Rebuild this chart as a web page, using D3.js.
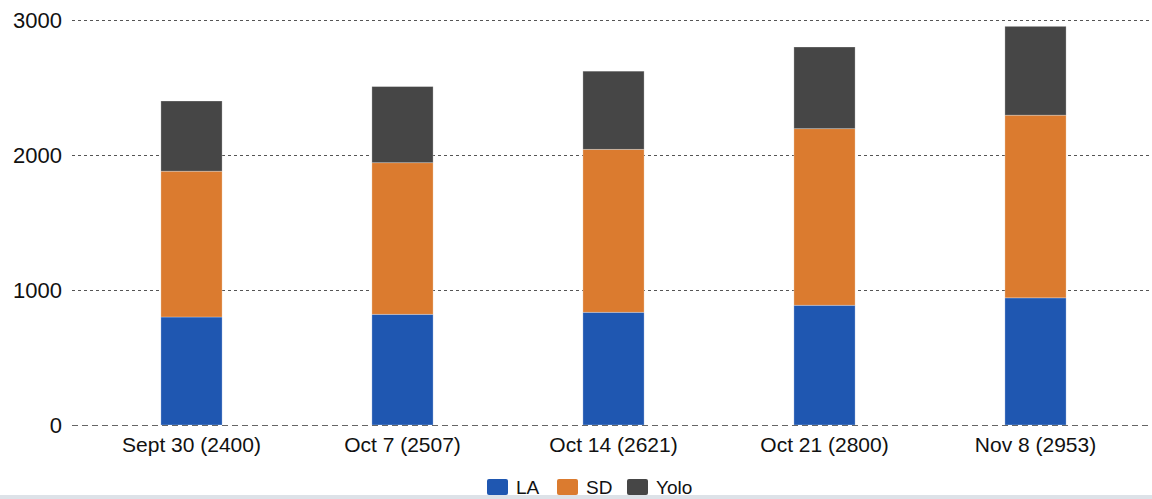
<!DOCTYPE html>
<html lang="en">
<head>
  <meta charset="UTF-8">
  <title>Stacked bars</title>
  <style>
    body { margin: 0; background: #fff; font-family: "Liberation Sans", Arial, sans-serif; overflow: hidden; }
    .grid line { stroke: #555; stroke-width: 1px; stroke-dasharray: 3,3; }
    .baseline { stroke: #666; stroke-width: 1.2px; stroke-dasharray: 6,4; }
    .tick-label { font-size: 22px; fill: #111; }
    .cat-label { font-size: 21px; fill: #111; }
    .legend text { font-size: 19px; fill: #111; }
  </style>
</head>
<body>
  <svg id="chart" width="1152" height="499"></svg>
  <script src="https://cdn.jsdelivr.net/npm/d3@7"></script>
  <script>
    const categories = ["Sept 30 (2400)", "Oct 7 (2507)", "Oct 14 (2621)", "Oct 21 (2800)", "Nov 8 (2953)"];
    const seriesNames = ["LA", "SD", "Yolo"];
    const laValues   = [800, 820, 835, 887, 942];
    const sdValues   = [1080, 1123, 1207, 1308, 1353];
    const yoloValues = [520, 564, 579, 605, 658];
    const yTicks = [0, 1000, 2000, 3000];
    const colors = ["#1f57b1", "#db7b2f", "#464646"];

    const width = 1152, height = 499;
    const svg = d3.select("#chart");

    const rows = categories.map((c, i) => ({
      cat: c, LA: laValues[i], SD: sdValues[i], Yolo: yoloValues[i]
    }));
    const stacked = d3.stack().keys(seriesNames)(rows);

    const x = d3.scaleBand()
      .domain(categories)
      .range([86, 1141])
      .paddingInner(0.71)
      .paddingOuter(0.355);

    const y = d3.scaleLinear()
      .domain([0, 3000])
      .range([425, 20]);

    const color = d3.scaleOrdinal().domain(seriesNames).range(colors);

    // gridlines
    svg.append("g")
      .attr("class", "grid")
      .selectAll("line")
      .data(yTicks.filter(d => d > 0))
      .join("line")
      .attr("x1", 72).attr("x2", width)
      .attr("y1", d => Math.round(y(d)) + 0.5)
      .attr("y2", d => Math.round(y(d)) + 0.5);

    // y tick labels
    svg.append("g")
      .selectAll("text")
      .data(yTicks)
      .join("text")
      .attr("class", "tick-label")
      .attr("x", 62)
      .attr("y", d => y(d))
      .attr("dy", "0.36em")
      .attr("text-anchor", "end")
      .text(d => d);

    // bars
    svg.append("g")
      .selectAll("g")
      .data(stacked)
      .join("g")
      .attr("fill", d => color(d.key))
      .selectAll("rect")
      .data(d => d)
      .join("rect")
      .attr("x", d => x(d.data.cat))
      .attr("width", x.bandwidth())
      .attr("y", d => y(d[1]))
      .attr("height", d => y(d[0]) - y(d[1]))
      .attr("stroke", "rgba(255,255,255,0.35)")
      .attr("stroke-width", 0.8);

    // zero line drawn over the bars
    svg.append("line")
      .attr("class", "baseline")
      .attr("x1", 72).attr("x2", width)
      .attr("y1", y(0) + 0.5).attr("y2", y(0) + 0.5);

    // category labels
    svg.append("g")
      .selectAll("text")
      .data(categories)
      .join("text")
      .attr("class", "cat-label")
      .attr("x", d => x(d) + x.bandwidth() / 2)
      .attr("y", 452)
      .attr("text-anchor", "middle")
      .text(d => d);

    // legend
    const legendX = [487, 557, 627];
    const legend = svg.append("g").attr("class", "legend");
    const item = legend.selectAll("g")
      .data(seriesNames)
      .join("g")
      .attr("transform", (d, i) => `translate(${legendX[i]},479)`);
    item.append("rect")
      .attr("width", 21).attr("height", 16)
      .attr("rx", 2)
      .attr("fill", d => color(d));
    item.append("text")
      .attr("x", 29).attr("y", 15)
      .text(d => d);

    // light strip at the bottom edge
    svg.append("rect")
      .attr("x", 0).attr("y", 495)
      .attr("width", width).attr("height", 4)
      .attr("fill", "#dde2e8");
  </script>
</body>
</html>
